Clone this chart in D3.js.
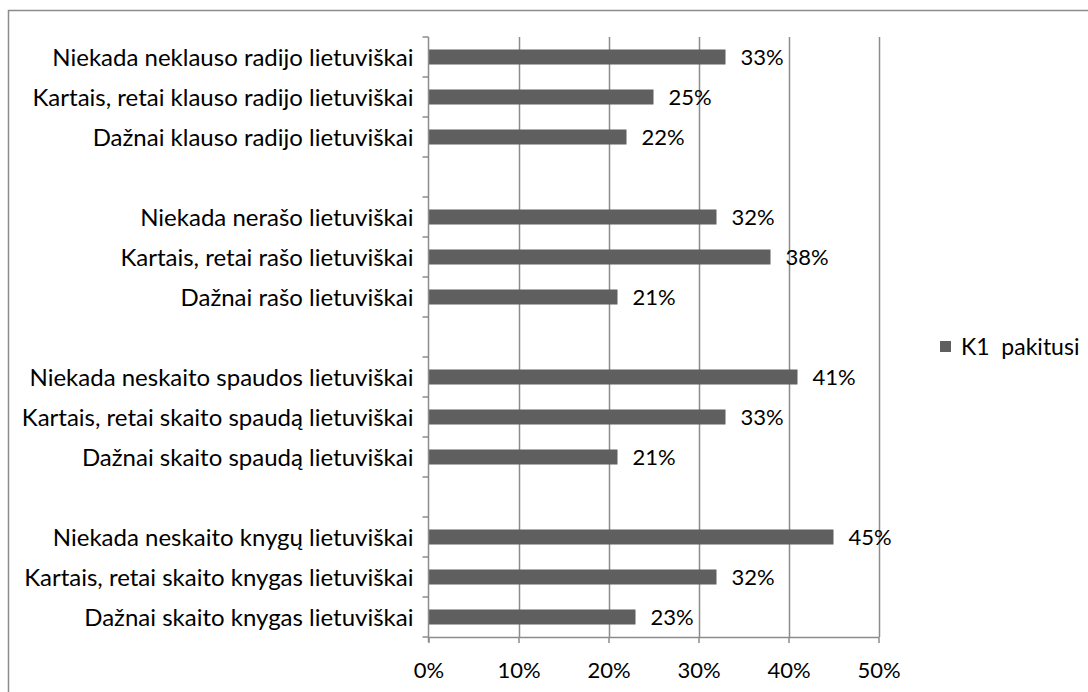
<!DOCTYPE html>
<html>
<head>
<meta charset="utf-8">
<script src="https://cdn.jsdelivr.net/npm/d3@7"></script>
<style>
  html, body { margin: 0; padding: 0; background: #fff; }
  svg { display: block; }
  text { font-family: Lato, "Open Sans", sans-serif; fill: #000; }
</style>
</head>
<body>
<svg id="chart" width="1088" height="692"></svg>
<script>
const categories = [
  "Niekada neklauso radijo lietuviškai",
  "Kartais, retai klauso radijo lietuviškai",
  "Dažnai klauso radijo lietuviškai",
  " ",
  "Niekada nerašo lietuviškai",
  "Kartais, retai rašo lietuviškai",
  "Dažnai rašo lietuviškai",
  "  ",
  "Niekada neskaito spaudos lietuviškai",
  "Kartais, retai skaito spaudą lietuviškai",
  "Dažnai skaito spaudą lietuviškai",
  "   ",
  "Niekada neskaito knygų lietuviškai",
  "Kartais, retai skaito knygas lietuviškai",
  "Dažnai skaito knygas lietuviškai"
];
const values = [33, 25, 22, null, 32, 38, 21, null, 41, 33, 21, null, 45, 32, 23];
const xTicks = [0, 10, 20, 30, 40, 50];
const seriesName = "K1  pakitusi";

const FS = 22;
const svg = d3.select("#chart");
const m = { left: 428.5, right: 878.5, top: 37, bottom: 637 };

// outer frame (cropped on right and bottom)
svg.append("rect")
  .attr("x", 8.5).attr("y", 10.5)
  .attr("width", 1200).attr("height", 800)
  .attr("fill", "none").attr("stroke", "#8c8c8c").attr("stroke-width", 1.5);

const x = d3.scaleLinear().domain([0, 50]).range([m.left, m.right]);
const y = d3.scaleBand().domain(categories).range([m.top, m.bottom]).paddingInner(0.62).paddingOuter(0.31);
const yStep = (m.bottom - m.top) / categories.length;

// gridlines
svg.append("g").selectAll("line").data(xTicks.slice(1)).join("line")
  .attr("x1", d => Math.round(x(d)) + 0.5).attr("x2", d => Math.round(x(d)) + 0.5)
  .attr("y1", m.top).attr("y2", m.bottom)
  .attr("stroke", "#8c8c8c").attr("stroke-width", 1.5);

// bars
const data = categories.map((c, i) => ({ c, v: values[i] })).filter(d => d.v !== null);
svg.append("g").selectAll("rect").data(data).join("rect")
  .attr("x", x(0))
  .attr("y", d => y(d.c) + y.bandwidth() / 2 - 7.5)
  .attr("width", d => x(d.v) - x(0))
  .attr("height", 15)
  .attr("fill", "#5f5f5f");

// value labels
svg.append("g").selectAll("text").data(data).join("text")
  .attr("x", d => x(d.v) + 15)
  .attr("y", d => y(d.c) + y.bandwidth() / 2)
  .attr("dy", "0.36em")
  .attr("font-size", FS)
  .text(d => d.v + "%");

// y axis
const yAxisG = svg.append("g").attr("transform", `translate(${m.left},0)`);
yAxisG.append("line").attr("x1", 0).attr("x2", 0).attr("y1", m.top).attr("y2", m.bottom + 5)
  .attr("stroke", "#8c8c8c").attr("stroke-width", 1.5);
const yTickPos = d3.range(categories.length + 1).map(i => m.top + i * yStep);
yAxisG.selectAll("line.t").data(yTickPos).join("line").attr("class", "t")
  .attr("x1", -6).attr("x2", 0).attr("y1", d => d).attr("y2", d => d)
  .attr("stroke", "#8c8c8c").attr("stroke-width", 1.5);
yAxisG.selectAll("text").data(categories).join("text")
  .attr("x", -15)
  .attr("y", d => y(d) + y.bandwidth() / 2)
  .attr("dy", "0.36em")
  .attr("text-anchor", "end")
  .attr("font-size", 24)
  .text(d => d.trim());

// x axis
const xAxis = d3.axisBottom(x).tickValues(xTicks).tickFormat(d => d + "%").tickSize(6).tickSizeOuter(0);
const xAxisG = svg.append("g").attr("transform", `translate(0,${m.bottom})`).call(xAxis);
xAxisG.select(".domain").attr("stroke", "#8c8c8c").attr("stroke-width", 1.5);
xAxisG.selectAll(".tick line").attr("stroke", "#8c8c8c").attr("stroke-width", 1.5);
xAxisG.selectAll(".tick text").attr("font-size", FS).attr("dy", "0").attr("y", 41)
  .attr("font-family", "Lato, 'Open Sans', sans-serif").attr("fill", "#000");

// legend
const lg = svg.append("g").attr("transform", "translate(940,341)");
lg.append("rect").attr("x", 0).attr("y", 0).attr("width", 11).attr("height", 11).attr("fill", "#5f5f5f");
lg.append("text").attr("x", 21).attr("y", 6).attr("dy", "0.36em")
  .attr("font-size", FS + 1).style("white-space", "pre").text(seriesName);
</script>
</body>
</html>
